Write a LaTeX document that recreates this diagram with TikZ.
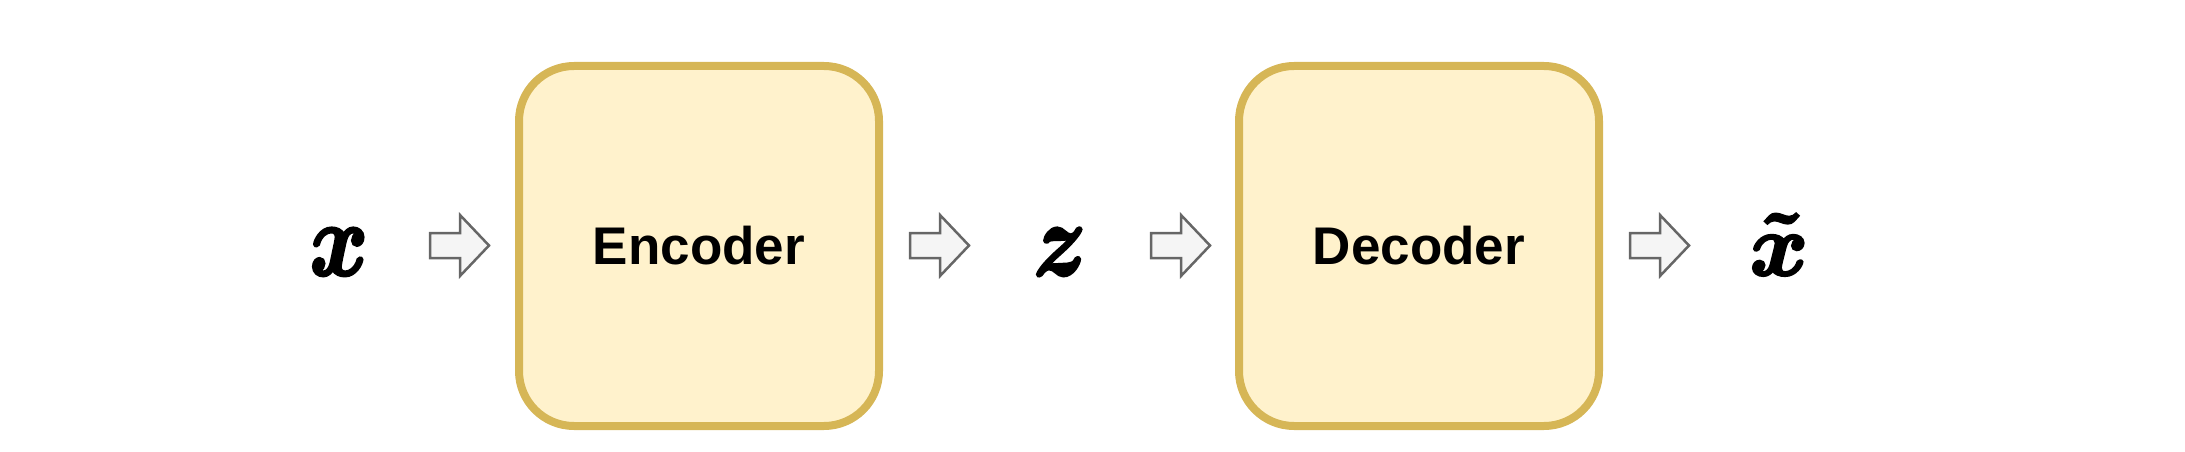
\RequirePackage{fix-cm}
\documentclass[tikz,border=0pt]{standalone}
\usepackage{amsmath}
\usepackage{graphicx}
\usepackage{fontspec}
\setmainfont{Liberation Sans}
\usetikzlibrary{positioning}

\definecolor{blockfill}{HTML}{FFF2CC}
\definecolor{blockline}{HTML}{D6B656}
\definecolor{arrowfill}{HTML}{F5F5F5}
\definecolor{arrowline}{HTML}{666666}

% heavy math letter: glyph filled and stroked
\newcommand{\heavy}[1]{\special{pdf:literal direct 2 Tr 2.8 w}#1\special{pdf:literal direct 0 Tr 0.4 w}}

\tikzset{
  block/.style={draw=blockline, fill=blockfill, line width=8pt, rounded corners=55pt,
    minimum width=360pt, minimum height=360pt, inner sep=0pt,
    font=\fontsize{53}{60}\selectfont\bfseries},
  var/.style={anchor=base, inner sep=0pt, text=black, font=\fontsize{88}{96}\selectfont\boldmath},
  fatarrow/.style={draw=arrowline, fill=arrowfill, line width=2.5pt, line join=miter}
}

\begin{document}
\begin{tikzpicture}[x=1pt,y=-1pt]
\useasboundingbox (0,0) rectangle (2185,452);

% inputs, latent and output
\node[var] (xin) at (339,275) {\scalebox{1}[1.18]{\heavy{$x$}}};
\node[var] (zlat) at (1060,275) {\scalebox{1}[1.18]{\heavy{$z$}}};
\node[var] (xout) at (1779,275) {\heavy{$\tilde{x}$}};

% the two networks
\node[block] (enc) at (699,246) {Encoder};
\node[block] (dec) at (1419,246) {Decoder};

% block arrows
\foreach \ax in {430,910,1151,1630} {
\draw[fatarrow] (\ax,233) -- ++(30,0) -- ++(0,-18) -- ++(29,30.5) -- ++(-29,30.5)
  -- ++(0,-18) -- ++(-30,0) -- cycle;
}
\end{tikzpicture}
\end{document}
